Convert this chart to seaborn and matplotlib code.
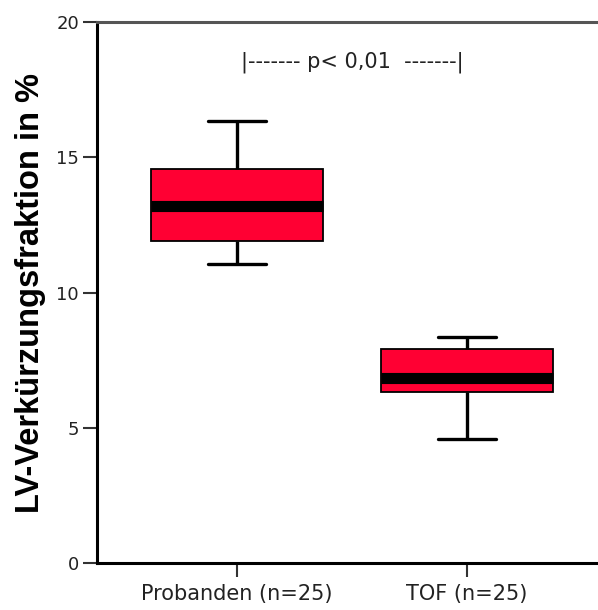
import matplotlib
matplotlib.use("Agg")
import matplotlib.pyplot as plt
import seaborn as sns
import pandas as pd

# ---- data ----
groups = ["Probanden (n=25)", "TOF (n=25)"]
whisker_low = [11.04, 4.59]
q1 = [11.91, 6.31]
median = [13.20, 6.85]
q3 = [14.55, 7.90]
whisker_high = [16.35, 8.34]
y_ticks = [0, 5, 10, 15, 20]
y_label = "LV-Verkürzungsfraktion in %"
p_text = "|------- p< 0,01  -------|"

rows = []
for i, g in enumerate(groups):
    for v in (whisker_low[i], q1[i], median[i], q3[i], whisker_high[i]):
        rows.append({"group": g, "value": v})
df = pd.DataFrame(rows)

sns.set_style("white")
plt.rcParams["font.family"] = ["DejaVu Sans"]

fig = plt.figure(figsize=(5.98, 6.10), dpi=100)
W, H = 598, 610
ax = fig.add_axes([97 / W, (H - 563) / H, (W - 97) / W, (563 - 22) / H])

sns.boxplot(
    data=df, x="group", y="value", order=groups, ax=ax,
    whis=(0, 100), width=0.75, color="#FF0033", saturation=1,
    linecolor="black", linewidth=1.3, fliersize=0,
    medianprops={"color": "black", "linewidth": 8, "solid_capstyle": "butt"},
    whiskerprops={"linewidth": 2.4},
    capprops={"linewidth": 2.4},
    capwidths=0.25,
)

ax.set_xlim(-0.61, 1.57)
ax.set_ylim(0, 20)
ax.set_yticks(y_ticks)
ax.set_xlabel("")
ax.set_ylabel("")
fig.text(31 / W, (H - 293) / H, y_label, rotation=90, ha="center", va="center",
         fontsize=23.5, fontweight="bold",
         family=["Liberation Sans", "DejaVu Sans"], color="black")

ax.tick_params(axis="y", length=10, width=1.5, pad=3, labelsize=13,
               colors="#333333", direction="out", left=True)
ax.tick_params(axis="x", length=10, width=1.5, pad=5, labelsize=15,
               colors="#333333", direction="out", bottom=True)
for lab in ax.get_xticklabels() + ax.get_yticklabels():
    lab.set_color("#222222")

for s in ["left", "bottom"]:
    ax.spines[s].set_color("black")
    ax.spines[s].set_linewidth(2.2)
ax.spines["top"].set_color("#555555")
ax.spines["top"].set_linewidth(2.2)
ax.spines["right"].set_visible(False)

ax.text(0.5, 18.52, p_text, ha="center", va="center", fontsize=15,
        color="#222222")

fig.savefig("out.png", dpi=100)
